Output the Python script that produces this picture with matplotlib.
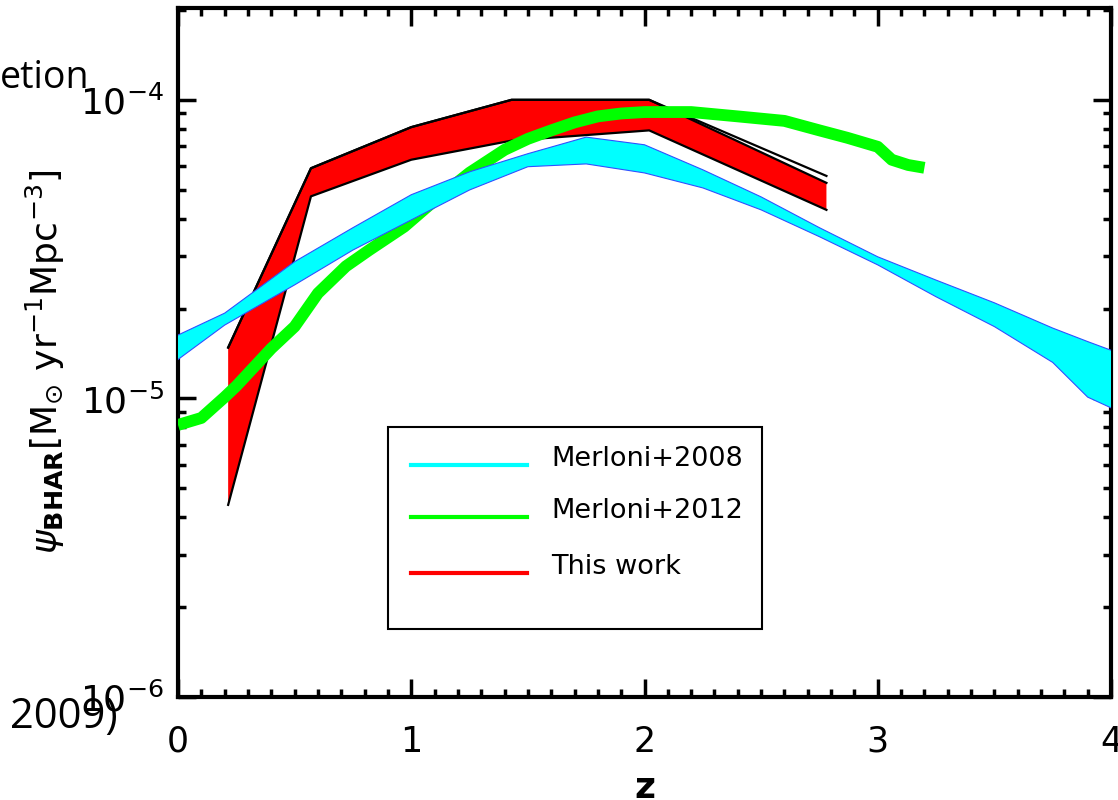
import numpy as np
import matplotlib
matplotlib.use("Agg")
import matplotlib.pyplot as plt
from matplotlib.ticker import MultipleLocator, LogLocator, NullFormatter

# Merloni+2008 band (z, lower/upper envelope)
z_m08 = [0.0, 0.2, 0.5, 0.75, 1.0, 1.25, 1.5, 1.75, 2.0, 2.25, 2.5, 2.75, 3.0, 3.25, 3.5, 3.75, 3.9, 4.0]
m08_hi = [1.63e-5, 1.93e-5, 2.87e-5, 3.73e-5, 4.81e-5, 5.74e-5, 6.6e-5, 7.5e-5, 7.07e-5, 5.83e-5,
          4.73e-5, 3.73e-5, 2.98e-5, 2.49e-5, 2.09e-5, 1.72e-5, 1.55e-5, 1.45e-5]
m08_lo = [1.35e-5, 1.76e-5, 2.4e-5, 3.14e-5, 3.96e-5, 4.99e-5, 5.97e-5, 6.1e-5, 5.69e-5, 5.07e-5,
          4.28e-5, 3.48e-5, 2.8e-5, 2.19e-5, 1.74e-5, 1.32e-5, 1.01e-5, 9.3e-6]

# Merloni+2012 curve
z_m12 = [0.0, 0.1, 0.2, 0.25, 0.4, 0.5, 0.6, 0.72, 0.82, 0.97, 1.1, 1.25, 1.4, 1.5, 1.6, 1.7,
         1.8, 1.9, 2.0, 2.2, 2.4, 2.6, 2.75, 2.87, 3.0, 3.06, 3.13, 3.2]
m12 = [8.15e-6, 8.6e-6, 1.01e-5, 1.1e-5, 1.47e-5, 1.74e-5, 2.25e-5, 2.77e-5, 3.14e-5, 3.76e-5,
       4.6e-5, 5.7e-5, 6.8e-5, 7.4e-5, 7.9e-5, 8.4e-5, 8.8e-5, 9.0e-5, 9.1e-5, 9.1e-5,
       8.8e-5, 8.5e-5, 7.9e-5, 7.46e-5, 6.96e-5, 6.3e-5, 6.05e-5, 5.92e-5]

# This work band
z_tw = [0.215, 0.57, 1.0, 1.43, 2.02, 2.78]
tw_hi = [1.48e-5, 5.9e-5, 8.1e-5, 1.0e-4, 1.0e-4, 5.27e-5]
tw_hi_edge = [1.48e-5, 5.9e-5, 8.1e-5, 1.0e-4, 1.0e-4, 5.56e-5]
tw_lo = [4.4e-6, 4.75e-5, 6.3e-5, 7.3e-5, 7.9e-5, 4.28e-5]

legend_labels = ["Merloni+2008", "Merloni+2012", "This work"]
legend_colors = ["#00ffff", "#00ff00", "#ff0000"]

W, H = 1118, 800
fig = plt.figure(figsize=(W / 100, H / 100), dpi=100)
x0, x1, ytop, ybot = 178, 1111, 8, 697
ax = fig.add_axes([x0 / W, 1 - ybot / H, (x1 - x0) / W, (ybot - ytop) / H])

# red band first, then green, cyan on top (as in the original)
ax.fill_between(z_tw, tw_lo, tw_hi, facecolor="#ff0000", edgecolor="none", zorder=2)
ax.plot(z_tw, tw_hi_edge, color="black", lw=1.6, zorder=3)
ax.plot(z_tw, tw_hi, color="black", lw=1.6, zorder=3)
ax.plot(z_tw, tw_lo, color="black", lw=1.6, zorder=3)

ax.plot(z_m12, m12, color="#00ff00", lw=8.5, zorder=4, solid_capstyle="butt")

ax.fill_between(z_m08, m08_lo, m08_hi, facecolor="#00ffff", edgecolor="none", zorder=5)
ax.plot(z_m08, m08_hi, color="#3050ff", lw=0.8, zorder=6)
ax.plot(z_m08, m08_lo, color="#3050ff", lw=0.8, zorder=6)

ax.set_yscale("log")
ax.set_xlim(0, 4)
ax.set_ylim(1e-6, 2.03e-4)

ax.xaxis.set_major_locator(MultipleLocator(1))
ax.xaxis.set_minor_locator(MultipleLocator(0.1))
ax.yaxis.set_major_locator(LogLocator(base=10, numticks=10))
ax.yaxis.set_minor_locator(LogLocator(base=10, subs=np.arange(2, 10), numticks=20))
ax.yaxis.set_minor_formatter(NullFormatter())

ax.tick_params(which="both", direction="in", top=True, right=True, width=2.5, color="black")
ax.tick_params(which="major", length=13)
ax.tick_params(which="minor", length=6)
ax.tick_params(axis="x", which="major", labelsize=25, pad=20)
ax.tick_params(axis="y", which="major", labelsize=26, pad=10)
for sp in ax.spines.values():
    sp.set_linewidth(3)

ax.set_xlabel("z", fontsize=26, fontweight="bold", labelpad=9)
ax.set_ylabel(r"$\psi_{\mathbf{BHAR}}[\mathrm{M}_{\odot}\ \mathrm{yr}^{-1}\mathrm{Mpc}^{-3}]$",
              fontsize=26, va="center")
ax.yaxis.set_label_coords((45 - x0) / (x1 - x0), (ybot - 362) / (ybot - ytop))

# legend box drawn like the IDL one
def ax_xy(px, py):
    return (px - x0) / (x1 - x0), (ybot - py) / (ybot - ytop)

bx0, by0 = ax_xy(388, 629)
bx1, by1 = ax_xy(762, 427)
ax.add_patch(plt.Rectangle((bx0, by0), bx1 - bx0, by1 - by0, transform=ax.transAxes,
                           facecolor="white", edgecolor="black", lw=1.5, zorder=10))
for lab, col, ly in zip(legend_labels, legend_colors, [465, 517, 573]):
    lx0, lyy = ax_xy(411, ly)
    lx1, _ = ax_xy(527, ly)
    ax.plot([lx0, lx1], [lyy, lyy], color=col, lw=3, transform=ax.transAxes, zorder=11)
    tx, ty = ax_xy(551, ly - 6)
    ax.text(tx, ty, lab, transform=ax.transAxes, fontsize=19.5, va="center", ha="left", zorder=11)

# fragments of the surrounding slide
fig.text(0, 1 - 88 / H, "etion", fontsize=27, family="Open Sans", va="baseline", ha="left")
fig.text(10 / W, 1 - 728 / H, "2009)", fontsize=30, family="Open Sans", va="baseline", ha="left")

fig.savefig("out.png", dpi=100)
